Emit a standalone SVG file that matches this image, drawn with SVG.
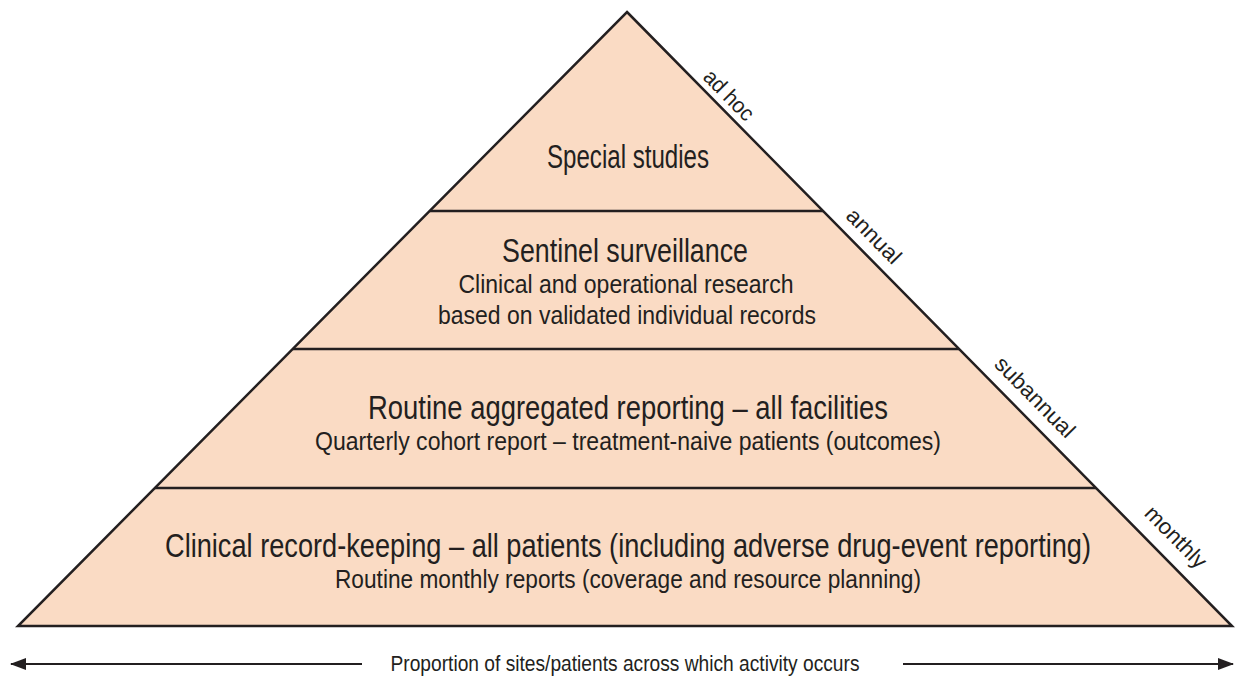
<svg xmlns="http://www.w3.org/2000/svg" width="1235" height="677" viewBox="0 0 1235 677">
<defs>
<style>
.t{font-family:"Liberation Sans Narrow","Liberation Sans",Arial,sans-serif;fill:#231f20;text-anchor:middle}
.h{font-size:32.5px}
.s{font-size:25.5px}
.r{font-size:22px}
.band{stroke:#231f20;stroke-width:2.5;fill:none}
.ax{stroke:#231f20;stroke-width:2.2;fill:none}
</style>
<marker id="ah" viewBox="0 0 16 12" refX="15" refY="6" markerWidth="16" markerHeight="12" markerUnits="userSpaceOnUse" orient="auto-start-reverse">
<path d="M0,0 L16,6 L0,12 Z" fill="#231f20"/>
</marker>
</defs>
<g id="pyramid">
<polygon points="627,12 1232,626 18,626" fill="#fadbc4" stroke="#231f20" stroke-width="2.5" stroke-linejoin="miter"/>
<line class="band" x1="430" y1="211" x2="823" y2="211"/>
<line class="band" x1="293" y1="349" x2="959" y2="349"/>
<line class="band" x1="155" y1="488" x2="1096" y2="488"/>
</g>
<g id="special-studies">
<text class="t h" x="628" y="168" textLength="162" lengthAdjust="spacingAndGlyphs">Special studies</text>
</g>
<g id="sentinel-surveillance">
<text class="t h" x="625" y="262" textLength="246" lengthAdjust="spacingAndGlyphs">Sentinel surveillance</text>
<text class="t s" x="626" y="293" textLength="335" lengthAdjust="spacingAndGlyphs">Clinical and operational research</text>
<text class="t s" x="627" y="324" textLength="378" lengthAdjust="spacingAndGlyphs">based on validated individual records</text>
</g>
<g id="routine-aggregated">
<text class="t h" x="628" y="419" textLength="520" lengthAdjust="spacingAndGlyphs">Routine aggregated reporting – all facilities</text>
<text class="t s" x="628" y="450" textLength="626" lengthAdjust="spacingAndGlyphs">Quarterly cohort report – treatment-naive patients (outcomes)</text>
</g>
<g id="clinical-record-keeping">
<text class="t h" x="628" y="557" textLength="926" lengthAdjust="spacingAndGlyphs">Clinical record-keeping – all patients (including adverse drug-event reporting)</text>
<text class="t s" x="628" y="588" textLength="586" lengthAdjust="spacingAndGlyphs">Routine monthly reports (coverage and resource planning)</text>
</g>
<g id="frequency-labels">
<text class="t r" transform="translate(729,95) rotate(45.4)" dominant-baseline="central" textLength="62" lengthAdjust="spacingAndGlyphs">ad hoc</text>
<text class="t r" transform="translate(874,236) rotate(45.4)" dominant-baseline="central" textLength="68" lengthAdjust="spacingAndGlyphs">annual</text>
<text class="t r" transform="translate(1035,397) rotate(45.4)" dominant-baseline="central" textLength="104" lengthAdjust="spacingAndGlyphs">subannual</text>
<text class="t r" transform="translate(1176,537) rotate(45.4)" dominant-baseline="central" textLength="78" lengthAdjust="spacingAndGlyphs">monthly</text>
</g>
<g id="connectors">
<line class="ax" x1="362" y1="664" x2="11" y2="664" marker-end="url(#ah)"/>
<line class="ax" x1="903" y1="664" x2="1233" y2="664" marker-end="url(#ah)"/>
</g>
<g id="axis-label">
<text class="t" style="font-size:22px" x="625" y="671" textLength="469" lengthAdjust="spacingAndGlyphs">Proportion of sites/patients across which activity occurs</text>
</g>
</svg>
